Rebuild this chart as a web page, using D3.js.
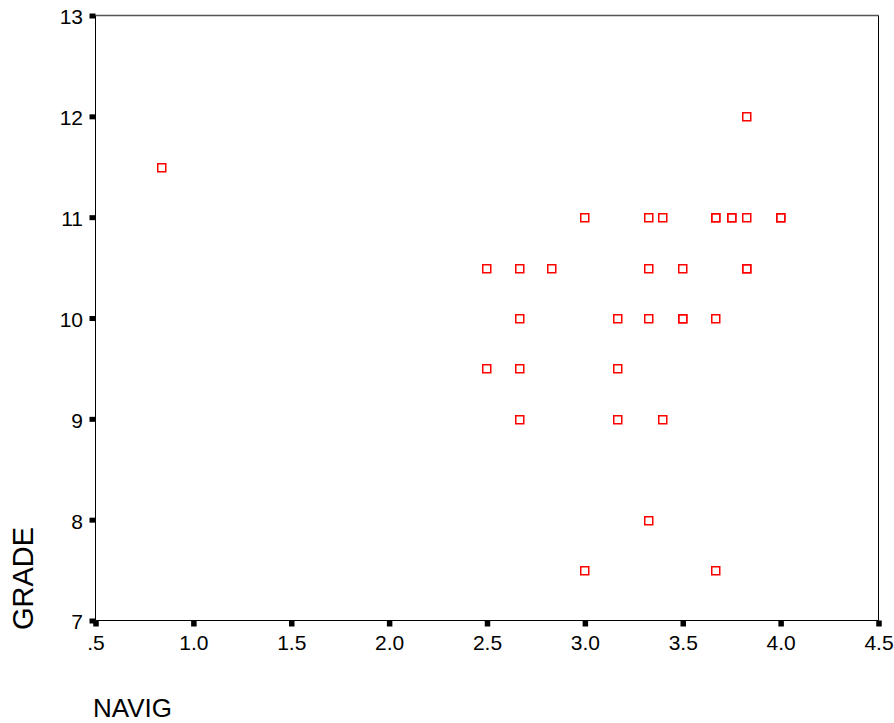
<!DOCTYPE html>
<html>
<head>
<meta charset="utf-8">
<script src="https://cdn.jsdelivr.net/npm/d3@7"></script>
<style>
  html, body { margin: 0; padding: 0; background: #fff; }
  svg { display: block; font-family: "Liberation Sans", Arial, sans-serif; }
</style>
</head>
<body>
<svg id="chart" width="894" height="723"></svg>
<script>
// NAVIG score vs. GRADE for each student
const navig = [0.84, 3.83,
  3.0, 3.33, 3.4, 3.67, 3.67, 3.75, 3.75, 3.83, 4.0, 4.0,
  2.5, 2.67, 2.83, 3.33, 3.5, 3.83, 3.83,
  2.67, 3.17, 3.33, 3.5, 3.5, 3.67,
  2.5, 2.67, 3.17,
  2.67, 3.17, 3.4,
  3.33,
  3.0, 3.67];
const grade = [11.5, 12,
  11, 11, 11, 11, 11, 11, 11, 11, 11, 11,
  10.5, 10.5, 10.5, 10.5, 10.5, 10.5, 10.5,
  10, 10, 10, 10, 10, 10,
  9.5, 9.5, 9.5,
  9, 9, 9,
  8,
  7.5, 7.5];

const xTicks = [0.5, 1.0, 1.5, 2.0, 2.5, 3.0, 3.5, 4.0, 4.5];
const xTickLabels = [".5", "1.0", "1.5", "2.0", "2.5", "3.0", "3.5", "4.0", "4.5"];
const yTicks = [7, 8, 9, 10, 11, 12, 13];
const yTickLabels = ["7", "8", "9", "10", "11", "12", "13"];

const xTitle = "NAVIG";
const yTitle = "GRADE";

const svg = d3.select("#chart");
const plotLeft = 95.5, plotRight = 878.5, plotTop = 15.5, plotBottom = 620.5;

const x = d3.scaleLinear().domain([0.5, 4.5]).range([plotLeft, plotRight]);
const y = d3.scaleLinear().domain([7, 13]).range([plotBottom, plotTop]);

// plot frame
svg.append("line").attr("x1", plotLeft).attr("x2", plotRight).attr("y1", plotTop).attr("y2", plotTop)
  .attr("stroke", "#555").attr("stroke-width", 1.5);
svg.append("line").attr("x1", plotRight).attr("x2", plotRight).attr("y1", plotTop).attr("y2", plotBottom)
  .attr("stroke", "#000").attr("stroke-width", 1);
svg.append("line").attr("x1", plotLeft).attr("x2", plotLeft).attr("y1", plotTop).attr("y2", plotBottom)
  .attr("stroke", "#000").attr("stroke-width", 1);
svg.append("line").attr("x1", plotLeft).attr("x2", plotRight).attr("y1", plotBottom).attr("y2", plotBottom)
  .attr("stroke", "#000").attr("stroke-width", 1);

// axes
const xAxis = d3.axisBottom(x)
  .tickValues(xTicks)
  .tickFormat((d, i) => xTickLabels[i])
  .tickSizeInner(6).tickSizeOuter(0).tickPadding(8.6);
const gx = svg.append("g").attr("transform", `translate(0,${plotBottom})`).call(xAxis);
gx.select(".domain").remove();
gx.selectAll(".tick line").attr("stroke", "#000").attr("stroke-width", 5.5);
gx.selectAll(".tick text").attr("font-size", 21).attr("fill", "#000")
  .attr("font-family", "Liberation Sans, Arial, sans-serif");

const yAxis = d3.axisLeft(y)
  .tickValues(yTicks)
  .tickFormat((d, i) => yTickLabels[i])
  .tickSizeInner(6).tickSizeOuter(0).tickPadding(6.5);
const gy = svg.append("g").attr("transform", `translate(${plotLeft},0)`).call(yAxis);
gy.select(".domain").remove();
gy.selectAll(".tick line").attr("stroke", "#000").attr("stroke-width", 5);
gy.selectAll(".tick text").attr("font-size", 21).attr("fill", "#000").attr("dy", "0.40em")
  .attr("font-family", "Liberation Sans, Arial, sans-serif");

// axis titles
svg.append("text")
  .attr("x", 93).attr("y", 717)
  .attr("font-size", 26).attr("fill", "#000")
  .text(xTitle);
svg.append("text")
  .attr("transform", "translate(33,630) rotate(-90)")
  .attr("font-size", 29).attr("fill", "#000")
  .text(yTitle);

// points: hollow red squares
const pts = navig.map((v, i) => ({ nx: v, gr: grade[i] }));
const s = 8;
svg.append("g").selectAll("rect").data(pts).join("rect")
  .attr("x", d => Math.round(x(d.nx)) - s / 2 - 0.25)
  .attr("y", d => Math.round(y(d.gr)) - s / 2 + 0.75)
  .attr("width", s).attr("height", s)
  .attr("fill", "none")
  .attr("stroke", "#ff0000")
  .attr("stroke-width", 1.5);
</script>
</body>
</html>
